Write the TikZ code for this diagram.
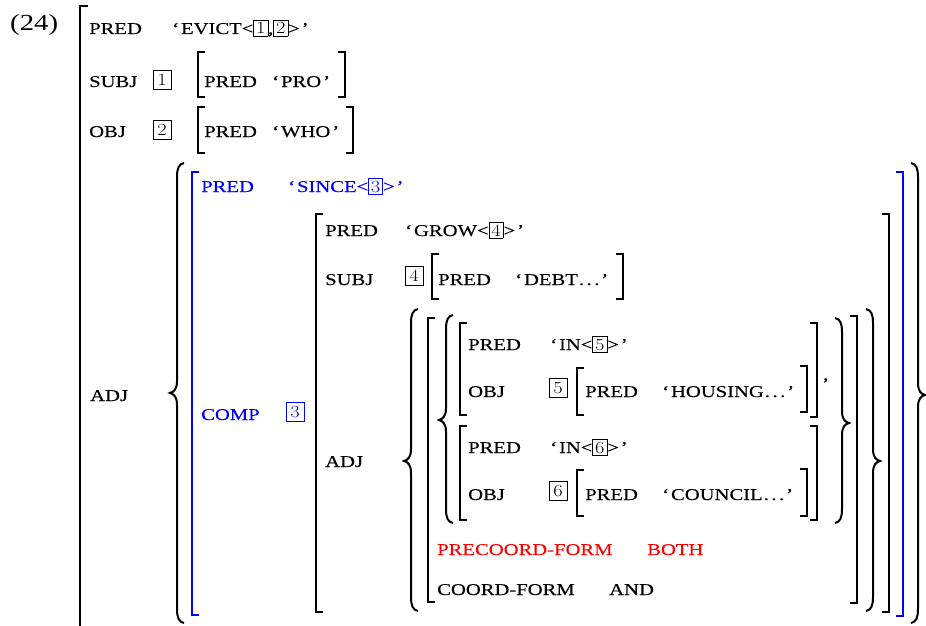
\documentclass[tikz,border=0pt]{standalone}
\usepackage{fontspec}
\usepackage{graphicx}
\newfontfamily\fs[FakeStretch=1.25,FakeBold=0.2]{Liberation Serif}
\newfontfamily\fsnum[FakeStretch=1.25]{Liberation Serif}
\newcommand\bxd[1]{{\rmfamily\fontsize{17}{20}\selectfont\scalebox{1.2}[1]{#1}}}
\newcommand\ibx[1]{{\setlength\fboxsep{2.1pt}\setlength\fboxrule{0.6pt}\fbox{\bxd{#1}}}}
\newcommand\myoq{‘\kern2pt}
\newcommand\mycq{\kern2pt’}
\newcommand\mydots{\kern1pt.\kern2.5pt.\kern2.5pt.}
\newcommand\mylb[4][black]{\draw[brk,#1] (#2+7,#3) -- (#2,#3) -- (#2,#4) -- (#2+7,#4);}
\newcommand\myrb[4][black]{\draw[brk,#1] (#2-7,#3) -- (#2,#3) -- (#2,#4) -- (#2-7,#4);}
\newcommand\mylbrace[4]{\draw[brc] (#1+7,#2) .. controls (#1+2,#2+1) and (#1,#2+5) .. (#1,#2+14) -- (#1,#3-12) .. controls (#1,#3-4) and (#1-3,#3-1) .. (#1-7,#3) .. controls (#1-3,#3+1) and (#1,#3+4) .. (#1,#3+12) -- (#1,#4-14) .. controls (#1,#4-5) and (#1+2,#4-1) .. (#1+7,#4);}
\newcommand\myrbrace[4]{\draw[brc] (#1-7,#2) .. controls (#1-2,#2+1) and (#1,#2+5) .. (#1,#2+14) -- (#1,#3-12) .. controls (#1,#3-4) and (#1+3,#3-1) .. (#1+7,#3) .. controls (#1+3,#3+1) and (#1,#3+4) .. (#1,#3+12) -- (#1,#4-14) .. controls (#1,#4-5) and (#1-2,#4-1) .. (#1-7,#4);}
\tikzset{
  lbl/.style={anchor=base west, inner sep=0pt, font=\fs\fontsize{16.5}{19}\selectfont},
  brk/.style={line width=1.3pt},
  brc/.style={line width=2pt},
  bxn/.style={draw, line width=0.6pt, minimum width=18pt, minimum height=19pt, inner sep=0pt},
}
\definecolor{fblue}{RGB}{0,0,255}
\definecolor{fred}{RGB}{255,0,0}
\begin{document}
\begin{tikzpicture}[x=1pt,y=-1pt]
\fill[white] (0,0) rectangle (926,626);
\useasboundingbox (0,0) rectangle (926,626);
% example number
\node[anchor=base west, inner sep=0pt, font=\fsnum\fontsize{23}{27}\selectfont] (num) at (10,31) {(24)};
% outer f-structure
\draw[line width=1.5pt] (88,6) -- (80,6) -- (80,630);
\node[lbl] (p1) at (89,34) {PRED};
\node[lbl] (v1) at (172,34) {\myoq EVICT<\ibx{1},\ibx{2}>\mycq};
\node[lbl] (subj) at (89,87) {SUBJ};
\node[bxn] (b1) at (162,80) {\bxd{1}};
\mylb{198}{52}{97}
\node[lbl] (p2) at (204,87) {PRED};
\node[lbl] (v2) at (272,87) {\myoq PRO\mycq};
\myrb{345}{52}{97}
\node[lbl] (obj) at (89,137) {OBJ};
\node[bxn] (b2) at (162,130) {\bxd{2}};
\mylb{198}{107}{153}
\node[lbl] (p3) at (204,137) {PRED};
\node[lbl] (v3) at (272,137) {\myoq WHO\mycq};
\myrb{353}{107}{153}
\node[lbl] (adj) at (90,401) {ADJ};
% big set braces
\mylbrace{177}{163}{393}{623}
\myrbrace{918}{163}{395}{623}
% blue f-structure
\mylb[fblue]{192}{172}{615}
\myrb[fblue]{903}{172}{616}
\node[lbl,text=fblue] (p4) at (201,192) {PRED};
\node[lbl,text=fblue] (v4) at (288,192) {\myoq SINCE<\ibx{3}>\mycq};
\node[lbl,text=fblue] (comp) at (201,420) {COMP};
\node[bxn,draw=fblue,text=fblue] (b3) at (295,412) {\bxd{3}};
% GROW f-structure
\mylb{316}{214}{612}
\myrb{889}{214}{612}
\node[lbl] (p5) at (325,236) {PRED};
\node[lbl] (v5) at (405,236) {\myoq GROW<\ibx{4}>\mycq};
\node[lbl] (subj2) at (325,285) {SUBJ};
\node[bxn] (b4) at (414,276) {\bxd{4}};
\mylb{432}{254}{299}
\node[lbl] (p6) at (438,285) {PRED};
\node[lbl] (v6) at (515,285) {\myoq DEBT\mydots\mycq};
\myrb{623}{254}{299}
\node[lbl] (adj2) at (325,467) {ADJ};
\mylbrace{411}{309}{461}{611}
\myrbrace{873}{309}{461}{611}
% coordination structure
\mylb{428}{318}{602}
\myrb{857}{316}{603}
\mylbrace{446}{315}{420}{523}
\myrbrace{842}{318}{423}{523}
% first conjunct
\mylb{460}{323}{415}
\myrb{817}{323}{417}
\node[lbl] (p7) at (468,350) {PRED};
\node[lbl] (v7) at (550,350) {\myoq IN<\ibx{5}>\mycq};
\node[lbl] (obj2) at (468,397) {OBJ};
\node[bxn] (b5) at (558,388) {\bxd{5}};
\mylb{577}{368}{415}
\node[lbl] (p8) at (585,397) {PRED};
\node[lbl] (v8) at (662,397) {\myoq HOUSING\mydots\mycq};
\myrb{807}{366}{412}
\node[lbl] (cm) at (823,380) {,};
% second conjunct
\mylb{460}{426}{520}
\myrb{817}{426}{520}
\node[lbl] (p9) at (468,453) {PRED};
\node[lbl] (v9) at (550,453) {\myoq IN<\ibx{6}>\mycq};
\node[lbl] (obj3) at (468,500) {OBJ};
\node[bxn] (b6) at (558,491) {\bxd{6}};
\mylb{577}{470}{516}
\node[lbl] (p10) at (585,500) {PRED};
\node[lbl] (v10) at (662,500) {\myoq COUNCIL\mydots\mycq};
\myrb{807}{469}{516}
% coordination features
\node[lbl,text=fred] (pcf) at (437,555) {PRECOORD-FORM};
\node[lbl,text=fred] (both) at (647,555) {BOTH};
\node[lbl] (cf) at (437,595) {COORD-FORM};
\node[lbl] (and) at (609,595) {AND};
\end{tikzpicture}
\end{document}
